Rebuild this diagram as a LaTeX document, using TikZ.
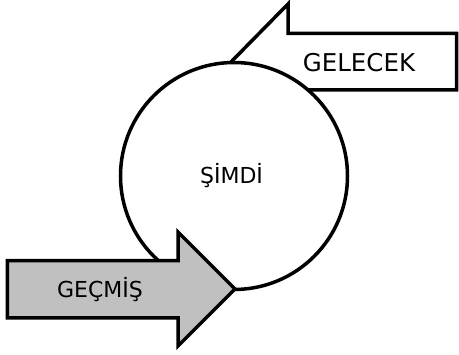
\documentclass[tikz,border=0pt]{standalone}
\usepackage{fontspec}
\setmainfont{DejaVu Sans}
\begin{document}
\begin{tikzpicture}[x=1pt,y=-1pt,
  outline/.style={draw=black,line width=3.5pt,line join=miter},
  lbl/.style={inner sep=0pt,text=black,anchor=base}]
\useasboundingbox (0,0) rectangle (459,355);
% GELECEK arrow (behind circle)
\draw[outline,fill=white] (231,62) -- (288,4) -- (288,33.5) -- (456.5,33.5) -- (456.5,90) -- (288,90) -- (288,120) -- cycle;
\node[lbl,font=\fontsize{24.5}{28}\selectfont] (gelecek) at (359,72) {GELECEK};
% circle
\node[outline,fill=white,circle,minimum size=227pt,inner sep=0pt] (simdi) at (234,176) {};
\node[lbl,font=\fontsize{22}{26}\selectfont] (simditxt) at (231.5,184) {ŞİMDİ};
% GECMIS arrow (in front)
\draw[outline,fill={rgb,255:red,192;green,192;blue,192}] (7.3,260.7) -- (178,260.7) -- (178,232) -- (235,289) -- (178,346) -- (178,318) -- (7.3,318) -- cycle;
\node[lbl,font=\fontsize{22}{26}\selectfont] (gecmis) at (100,298) {GEÇMİŞ};
\end{tikzpicture}
\end{document}
